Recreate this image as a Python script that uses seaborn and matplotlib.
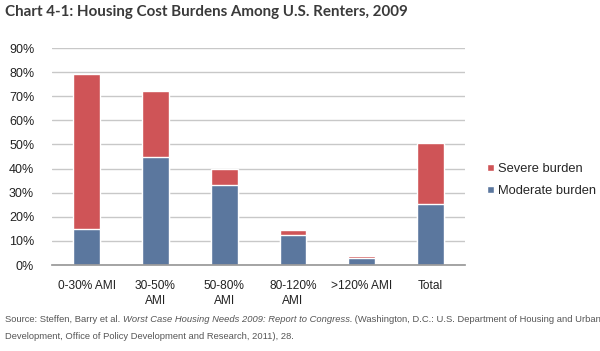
import pandas as pd
import numpy as np
import matplotlib.pyplot as plt
import seaborn as sns

# --- Datos ---
categories = ['0-30% AMI', '30-50%\nAMI', '50-80%\nAMI', '80-120%\nAMI', '>120% AMI', 'Total']
moderate = [0.148, 0.447, 0.331, 0.126, 0.030, 0.252]
severe = [0.644, 0.277, 0.066, 0.018, 0.009, 0.255]

df = pd.DataFrame({'cat': categories, 'moderate': moderate, 'severe': severe})
df['total'] = df['moderate'] + df['severe']

red = '#CF5457'
blue = '#5B779E'

sns.set_theme(style='white')
plt.rcParams['font.family'] = ['Liberation Sans', 'DejaVu Sans']

fig = plt.figure(figsize=(6, 3.51), dpi=100)
ax = fig.add_axes([0.087, 0.245, 0.688, 0.618])

sns.barplot(data=df, x='cat', y='total', color=red, width=0.39, saturation=1,
            label='Severe burden', ax=ax)
sns.barplot(data=df, x='cat', y='moderate', color=blue, width=0.39, saturation=1,
            label='Moderate burden', ax=ax)
if ax.get_legend() is not None:
    ax.get_legend().remove()

ax.set_ylim(0, 0.9)
ax.set_xlim(-0.5, len(categories) - 0.5)
ax.set_yticks(np.arange(0, 0.91, 0.1))
ax.set_yticklabels([f'{int(round(v*100))}%' for v in np.arange(0, 0.91, 0.1)], fontsize=9, color='#222222')
ax.yaxis.grid(True, color='#c8c8c8', lw=1)
ax.set_axisbelow(True)
for s in ['top', 'right', 'left']:
    ax.spines[s].set_visible(False)
ax.spines['bottom'].set_color('#999999')
ax.tick_params(axis='y', length=0, pad=13)
ax.tick_params(axis='x', which='major', length=0, pad=11, labelsize=8.6, labelcolor='#222222')
for lab in ax.get_xticklabels():
    lab.set_linespacing(1.35)
ax.set_xticks(np.arange(-0.5, len(categories), 1), minor=True)
ax.tick_params(axis='x', which='minor', length=4, color='#999999', direction='out')
ax.set_xlabel('')
ax.set_ylabel('')

h, l = ax.get_legend_handles_labels()
fig.legend(h, l, loc='center left', bbox_to_anchor=(0.812, 0.487), frameon=False,
           fontsize=9.3, handlelength=0.5, handleheight=0.5, handletextpad=0.35,
           labelspacing=0.75, borderpad=0, borderaxespad=0)

# --- Titulo ---
fig.text(0.008, 0.965, 'Chart 4-1: Housing Cost Burdens Among U.S. Renters, 2009',
         fontsize=10.9, fontweight='bold', color='#3a3a3a', va='center',
         family=['Lato', 'DejaVu Sans'])

# --- Fuente ---
src_kw = dict(fontsize=6.75, color='#555555')
t1 = fig.text(0.008, 0.083, 'Source: Steffen, Barry et al. ', va='baseline', **src_kw)
t2 = ax.annotate('Worst Case Housing Needs 2009: Report to Congress.', xy=(1, 0),
                 xycoords=t1, va='bottom', ha='left', style='italic', **src_kw)
t3 = ax.annotate(' (Washington, D.C.: U.S. Department of Housing and Urban', xy=(1, 0),
                 xycoords=t2, va='bottom', ha='left', **src_kw)
fig.text(0.008, 0.035, 'Development, Office of Policy Development and Research, 2011), 28.',
         va='baseline', **src_kw)

fig.savefig('out.png', dpi=100)
